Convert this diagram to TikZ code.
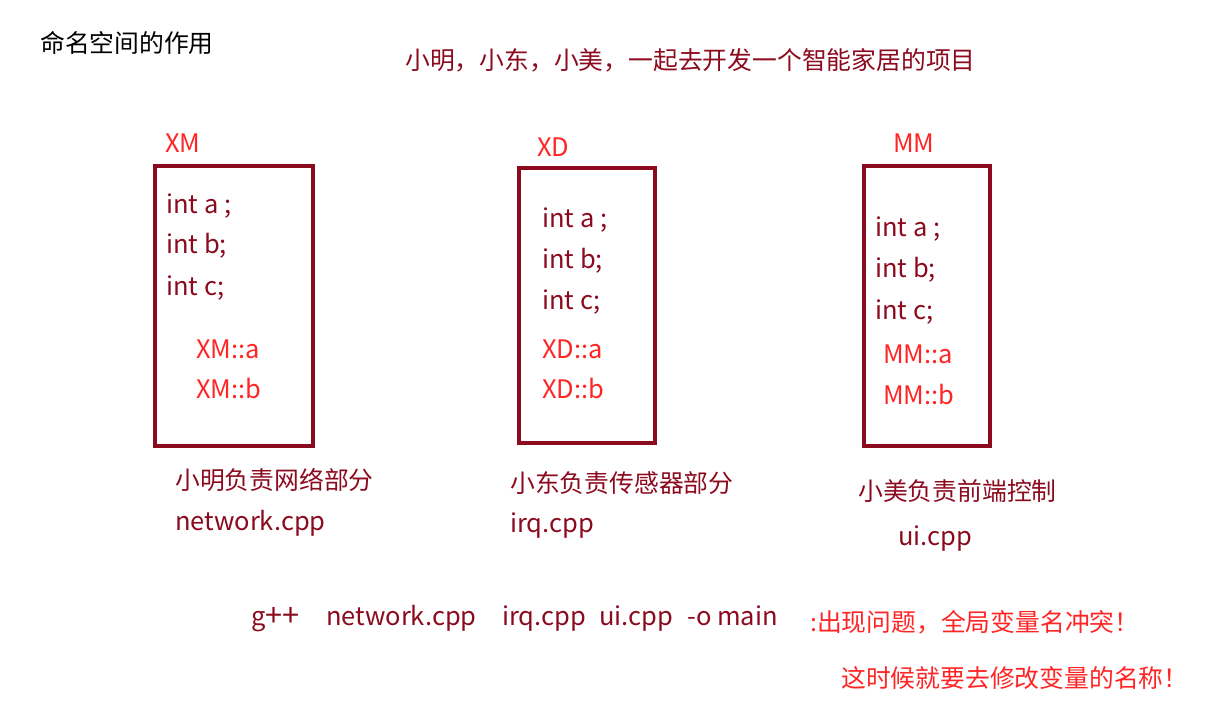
\documentclass[tikz,border=0pt]{standalone}
\usepackage{fontspec}
\setmainfont{Noto Sans CJK SC}
\definecolor{dred}{HTML}{8B0A1E}
\definecolor{bred}{HTML}{FF2525}
\newcommand{\bigplus}{\makebox[17pt]{\raisebox{-1.8pt}{\scalebox{1.2}{+}}}}
\begin{document}
\begin{tikzpicture}[x=1pt,y=-1pt,
  txt/.style={inner sep=0pt,anchor=west,yshift=-6pt,text height=0.8em,text depth=0.2em,font=\fontsize{25.5}{28}\selectfont},
  cjk/.style={font=\fontsize{24.8}{28}\selectfont},
  dtxt/.style={txt,text=dred},
  rtxt/.style={txt,text=bred},
  box/.style={draw=dred,line width=4pt,inner sep=0pt}]
\useasboundingbox (0,0) rectangle (1211,713);
\node[txt,cjk,text=black] (title) at (40,43) {命名空间的作用};
\node[dtxt,cjk] (sub) at (405,60) {小明，小东，小美，一起去开发一个智能家居的项目};
% XM
\node[rtxt] (xmlab) at (165,143) {XM};
\node[box,minimum width=158pt,minimum height=280pt] (xmbox) at (234,306) {};
\node[dtxt] (xm1) at (166,204) {int a ;};
\node[dtxt] (xm2) at (166,244) {int b;};
\node[dtxt] (xm3) at (166,286) {int c;};
\node[rtxt] (xm4) at (196,349) {XM::a};
\node[rtxt] (xm5) at (196,389) {XM::b};
\node[dtxt,cjk] (xmd) at (175,480) {小明负责网络部分};
\node[dtxt] (xmf) at (175,521) {network.cpp};
% XD
\node[rtxt] (xdlab) at (537,147) {XD};
\node[box,minimum width=136pt,minimum height=275pt] (xdbox) at (587,305.5) {};
\node[dtxt] (xd1) at (542,218) {int a ;};
\node[dtxt] (xd2) at (542,259) {int b;};
\node[dtxt] (xd3) at (542,300) {int c;};
\node[rtxt] (xd4) at (542,349) {XD::a};
\node[rtxt] (xd5) at (542,389) {XD::b};
\node[dtxt,cjk] (xdd) at (510,483) {小东负责传感器部分};
\node[dtxt] (xdf) at (510,523) {irq.cpp};
% MM
\node[rtxt] (mmlab) at (893,143) {MM};
\node[box,minimum width=126pt,minimum height=280pt] (mmbox) at (927,306) {};
\node[dtxt] (mm1) at (875,227) {int a ;};
\node[dtxt] (mm2) at (875,268) {int b;};
\node[dtxt] (mm3) at (875,310) {int c;};
\node[rtxt] (mm4) at (883,354) {MM::a};
\node[rtxt] (mm5) at (883,395) {MM::b};
\node[dtxt,cjk] (mmd) at (858,491) {小美负责前端控制};
\node[dtxt] (mmf) at (898,536) {ui.cpp};
% bottom
\node[dtxt] (cmd) at (251,616) {\makebox[75pt][l]{g\bigplus\bigplus}\makebox[176pt][l]{network.cpp}\makebox[97pt][l]{irq.cpp}\makebox[88pt][l]{ui.cpp}-o main};
\node[rtxt,cjk] (err) at (810,622) {:出现问题，全局变量名冲突！};
\node[rtxt,cjk] (fix) at (841,678) {这时候就要去修改变量的名称！};
\end{tikzpicture}
\end{document}
